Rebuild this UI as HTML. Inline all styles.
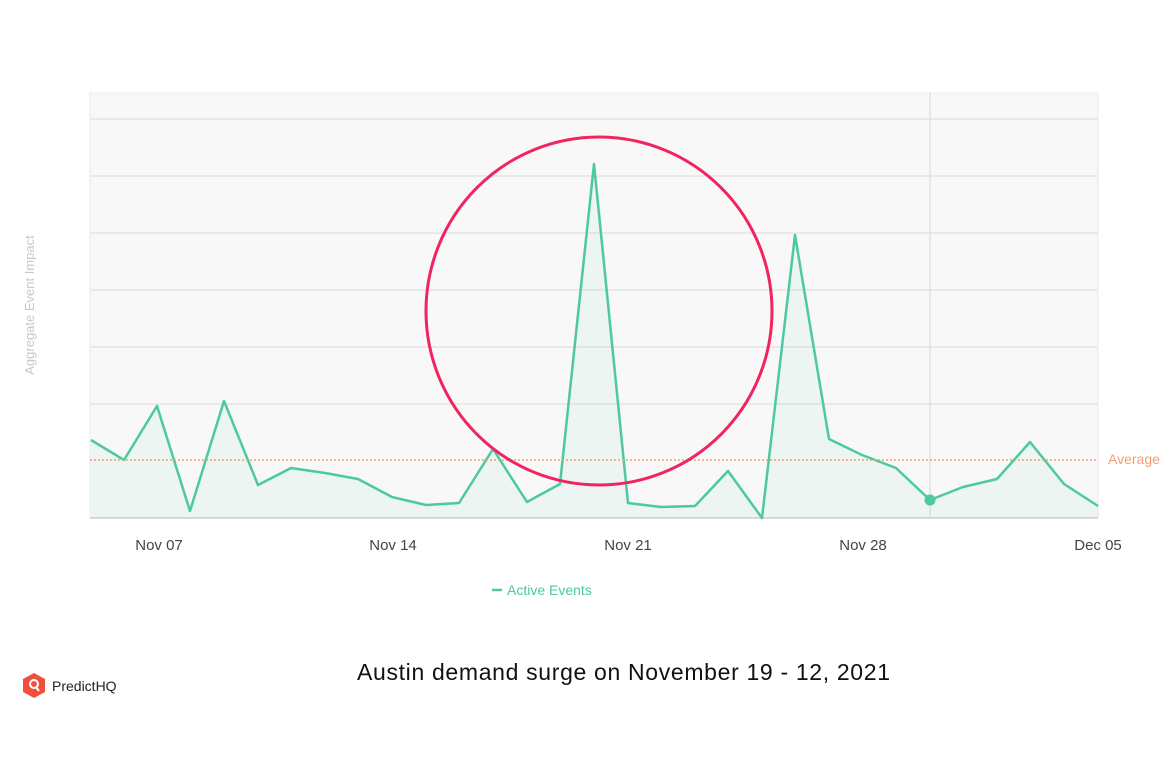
<!DOCTYPE html>
<html><head><meta charset="utf-8"><style>
body{margin:0;background:#fff;width:1176px;height:767px;overflow:hidden;font-family:"Liberation Sans",sans-serif}
</style></head><body>
<svg width="1176" height="767" xmlns="http://www.w3.org/2000/svg" style="position:absolute;left:0;top:0">
<rect x="90" y="93" width="1008" height="425" fill="#f8f8f8"/>
<line x1="90" y1="93" x2="1098" y2="93" stroke="#ececec"/>
<g stroke="#e0e0e0" stroke-width="1.2">
<line x1="90" y1="119" x2="1098" y2="119"/><line x1="90" y1="176" x2="1098" y2="176"/>
<line x1="90" y1="233" x2="1098" y2="233"/><line x1="90" y1="290" x2="1098" y2="290"/>
<line x1="90" y1="347" x2="1098" y2="347"/><line x1="90" y1="404" x2="1098" y2="404"/>
<line x1="90" y1="93" x2="90" y2="518" stroke="#ececec"/><line x1="1098" y1="93" x2="1098" y2="518" stroke="#ececec"/>
<line x1="930" y1="93" x2="930" y2="518" stroke="#dcdcdc"/>
</g>
<line x1="90" y1="518" x2="1098" y2="518" stroke="#cfcfcf" stroke-width="1.5"/>
<polygon fill="#4cc9a0" fill-opacity="0.06" points="91,518 91,440 124,460 157,406 190,511 224,401 258,485 291,468 325,473 358,479 392,497 426,505 459,503 493,449 527,502 560,484 594,164 628,503 661,507 695,506 728,471 762,518 795,235 829,439 862,455 896,468 930,500 963,487 997,479 1030,442 1064,484 1098,506 1098,518"/>
<polyline fill="none" stroke="#4cc9a0" stroke-width="2.5" stroke-linejoin="round" points="91,440 124,460 157,406 190,511 224,401 258,485 291,468 325,473 358,479 392,497 426,505 459,503 493,449 527,502 560,484 594,164 628,503 661,507 695,506 728,471 762,518 795,235 829,439 862,455 896,468 930,500 963,487 997,479 1030,442 1064,484 1098,506"/>
<line x1="90" y1="460" x2="1098" y2="460" stroke="#f0a070" stroke-width="1.5" stroke-dasharray="2,2"/>
<circle cx="930" cy="500" r="5.5" fill="#4cc9a0"/>
<ellipse cx="599" cy="311" rx="173" ry="174" fill="none" stroke="#f0245e" stroke-width="3"/>
<text x="1108" y="464" font-size="14" fill="#f0a070">Average</text>
<g font-size="15" fill="#444" text-anchor="middle">
<text x="159" y="550">Nov 07</text><text x="393" y="550">Nov 14</text><text x="628" y="550">Nov 21</text><text x="863" y="550">Nov 28</text><text x="1098" y="550">Dec 05</text>
</g>
<text transform="translate(34,305) rotate(-90)" font-size="13" fill="#c8c8c8" text-anchor="middle">Aggregate Event Impact</text>
<line x1="492" y1="590" x2="502" y2="590" stroke="#4cc9a0" stroke-width="2.5"/>
<text x="507" y="595" font-size="14" fill="#4cc9a0">Active Events</text>
<text x="357" y="680" font-size="23" fill="#111" textLength="533" lengthAdjust="spacing">Austin demand surge on November 19 - 12, 2021</text>
<polygon points="34,673 45,679 45,692 34,698 23,692 23,679" fill="#f0503a"/>
<circle cx="34" cy="684" r="4" fill="none" stroke="#fff" stroke-width="2"/>
<line x1="36" y1="687" x2="39" y2="691" stroke="#fff" stroke-width="2"/>
<text x="52" y="691" font-size="14" fill="#222">PredictHQ</text>
</svg>
</body></html>
